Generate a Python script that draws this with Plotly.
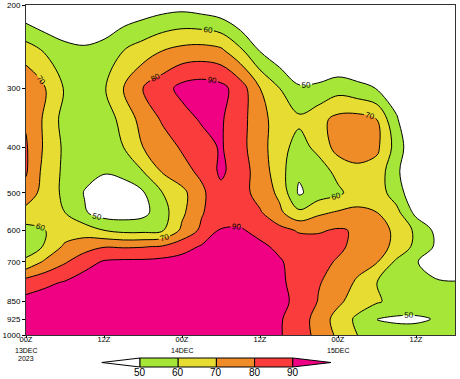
import numpy as np
import plotly.graph_objects as go

# ---------------- data ----------------
hours = list(range(0, 67, 3))  # hours after 00Z 13DEC2023
pressures = [1000, 925, 850, 775, 700, 650, 600, 550, 500, 450, 400, 350, 300, 250, 200]

rh_200 = [40, 36, 38, 35, 38, 41, 43, 45, 46, 44, 41, 35, 35, 33, 33, 33, 33, 33, 34, 34, 32, 30, 30]
rh_250 = [65, 59, 53, 52, 54, 60, 65, 70, 73, 74, 72, 62, 49.5, 42, 40, 38, 36, 36, 36, 37, 36, 35, 35]
rh_300 = [78, 70, 59, 54, 59, 70, 80, 86, 93, 95, 93, 85, 70, 60, 51, 52, 56, 53, 49.5, 45, 40, 38, 37]
rh_350 = [79, 68, 56, 53, 55, 63, 74, 81, 86, 91, 91, 84, 73, 66, 62, 67, 73, 74, 70, 51, 40, 38, 37]
rh_400 = [81, 68, 58, 53, 54, 60, 70, 76, 81, 86, 91, 83, 74, 64, 56, 63, 74, 76, 72, 56, 40, 38, 37]
rh_450 = [81, 66, 58, 53, 51, 54, 60, 71, 77, 82, 92, 84, 76, 64, 51.5, 55, 63, 67, 66, 52, 40, 38, 37]
rh_500 = [77, 65, 58, 49.5, 44, 43, 49, 60, 67, 78, 87, 84, 76, 68, 48.5, 55, 58, 65, 65, 55, 42, 38, 37]
rh_550 = [66, 64, 60, 51, 45, 45, 47, 56, 68, 79, 87, 85, 81, 72, 62, 68, 71, 72, 70, 63, 47, 40, 38]
rh_600 = [57, 60, 64, 65, 60, 57, 57, 59, 72, 82, 90.5, 91, 87, 83, 79, 79, 81, 79, 74, 68, 58, 48, 40]
rh_650 = [55, 61, 72, 76, 79.5, 79, 79.5, 81, 86, 91, 94, 93, 92, 88, 85, 84, 82, 77, 73, 68, 57, 49, 42]
rh_700 = [62, 72, 79, 86, 91, 92, 92, 93, 94, 95, 96, 96, 94, 91, 86, 83, 79, 75, 70.5, 58, 50.5, 46, 44]
rh_775 = [85, 88, 91, 95, 96, 96, 96, 96, 96, 96, 97, 97, 96, 92, 86, 80.5, 77, 68, 60, 55, 52, 51, 50.5]
rh_850 = [93, 95, 95, 96, 97, 97, 97, 97, 97, 97, 97, 97, 97, 93, 87, 79.5, 72, 65, 61, 57, 56, 55, 55]
rh_925 = [95, 96, 96, 97, 97, 97, 97, 97, 97, 97, 97, 97, 97, 91, 85, 76, 66, 58, 49.8, 48.5, 48.5, 50.5, 54]
rh_1000 = [96, 96, 97, 97, 97, 97, 97, 97, 97, 97, 97, 97, 97, 91, 84, 77.5, 68, 60, 56, 54, 54, 55, 55]

levels = [50, 60, 70, 80, 90]
band_colors = ["#ffffff", "#a5e639", "#e6dc32", "#f08c28", "#fa3c3c", "#f00082"]

tick_hours = [0, 12, 24, 36, 48, 60]
tick_text = ["00Z", "12Z", "00Z", "12Z", "00Z", "12Z"]
date_hours = [0, 24, 48]
date_text = ["13DEC", "14DEC", "15DEC"]
year_hours = [0]
year_text = ["2023"]
p_ticks = [200, 300, 400, 500, 600, 700, 850, 925, 1000]

# ---------------- figure ----------------
z = [rh_1000, rh_925, rh_850, rh_775, rh_700, rh_650, rh_600, rh_550,
     rh_500, rh_450, rh_400, rh_350, rh_300, rh_250, rh_200]

edges = [0, 0.1, 0.3, 0.5, 0.7, 0.9, 1.0]
cscale = []
for i, c in enumerate(band_colors):
    cscale.append([edges[i], c])
    cscale.append([edges[i + 1], c])

FONT = "Liberation Sans"

fig = go.Figure()
fig.add_trace(go.Contour(
    x=hours, y=pressures, z=z,
    colorscale=cscale, showscale=False,
    contours=dict(start=levels[0], end=levels[-1], size=levels[1] - levels[0],
                  coloring="fill", showlabels=True,
                  labelfont=dict(size=8, color="black", family=FONT)),
    line=dict(color="black", width=1, smoothing=1.0),
    hoverinfo="skip",
))

# pixel -> paper helpers (plot area 26..455 x 5..335)
L, R = 26.0, 455.0
B, T = 335.0, 5.0
def px(x):
    return (x - L) / (R - L)
def py(y):
    return (B - y) / (B - T)

# custom horizontal colour bar with triangular ends
seg = 38.2
x50 = 140.0
y_top, y_bot = 358.0, 367.0
shapes = []
shapes.append(dict(type="path", xref="paper", yref="paper",
                   path=f"M {px(x50)} {py(y_top)} L {px(x50 - seg)} {py((y_top + y_bot) / 2)} L {px(x50)} {py(y_bot)} Z",
                   fillcolor=band_colors[0], line=dict(color="black", width=1)))
for i in range(len(levels) - 1):
    shapes.append(dict(type="rect", xref="paper", yref="paper",
                       x0=px(x50 + i * seg), x1=px(x50 + (i + 1) * seg),
                       y0=py(y_bot), y1=py(y_top),
                       fillcolor=band_colors[i + 1], line=dict(color="black", width=1)))
xe = x50 + (len(levels) - 1) * seg
shapes.append(dict(type="path", xref="paper", yref="paper",
                   path=f"M {px(xe)} {py(y_top)} L {px(xe + seg)} {py((y_top + y_bot) / 2)} L {px(xe)} {py(y_bot)} Z",
                   fillcolor=band_colors[-1], line=dict(color="black", width=1)))

annotations = []
for i, lv in enumerate(levels):
    annotations.append(dict(xref="paper", yref="paper", x=px(x50 + i * seg), y=py(372.5),
                            text=str(lv), showarrow=False, xanchor="center", yanchor="middle",
                            font=dict(size=10, color="black", family=FONT)))
# second / third lines of the time-axis labels
for h, t in zip(date_hours, date_text):
    annotations.append(dict(xref="x", yref="paper", x=h, y=py(350), text=t, showarrow=False,
                            xanchor="center", yanchor="middle", borderpad=0,
                            font=dict(size=7, color="black", family=FONT)))
for h, t in zip(year_hours, year_text):
    annotations.append(dict(xref="x", yref="paper", x=h, y=py(358.5), text=t, showarrow=False,
                            xanchor="center", yanchor="middle", borderpad=0,
                            font=dict(size=7, color="black", family=FONT)))

fig.update_layout(
    width=460, height=379,
    margin=dict(l=26, r=5, t=5, b=44, autoexpand=False),
    paper_bgcolor="white", plot_bgcolor="white",
    showlegend=False,
    shapes=shapes, annotations=annotations,
    xaxis=dict(range=[0, 66], tickvals=tick_hours, ticktext=tick_text, automargin=False,
               ticks="outside", ticklen=2, tickcolor="black", ticklabelstandoff=-5,
               showgrid=False, zeroline=False, showline=True, mirror=True,
               linecolor="#333333", linewidth=1,
               tickfont=dict(size=7.5, color="black", family=FONT)),
    yaxis=dict(type="log", range=[np.log10(1000), np.log10(200)], automargin=False,
               tickvals=p_ticks, ticktext=[str(p) for p in p_ticks],
               ticks="outside", ticklen=3, tickcolor="black",
               showgrid=False, zeroline=False, showline=True, mirror=True,
               linecolor="#333333", linewidth=1,
               tickfont=dict(size=8, color="black", family=FONT)),
)

fig.write_html("out.html", config={"displayModeBar": False},
               post_script="document.body.style.margin='0';document.body.style.overflow='hidden';")
